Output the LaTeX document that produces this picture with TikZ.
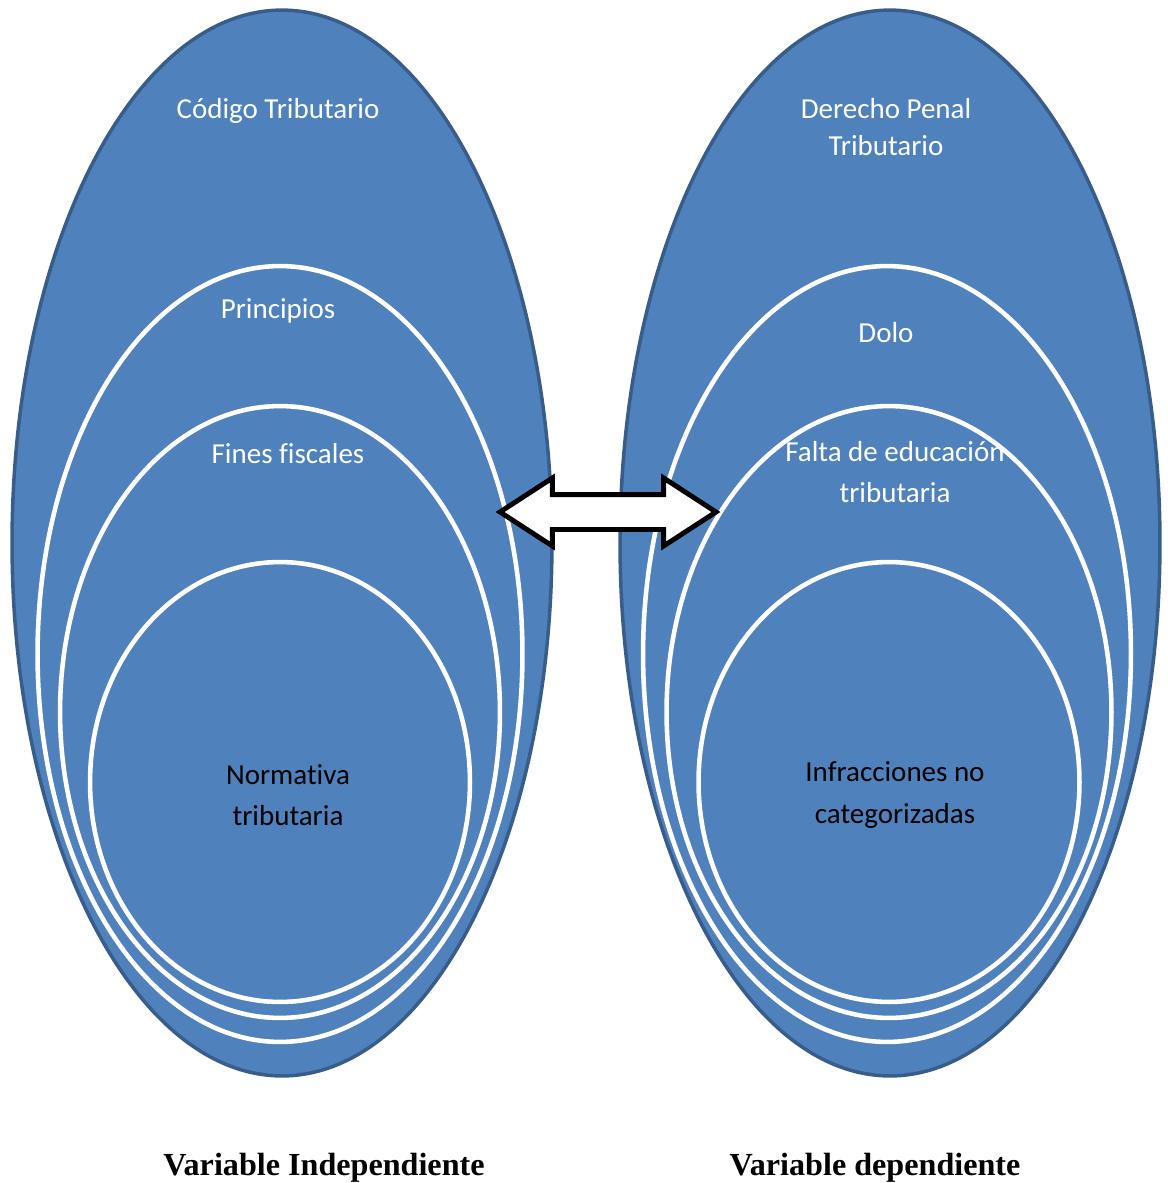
\documentclass[tikz,border=0pt]{standalone}
\usepackage{fontspec}
\setmainfont{Liberation Serif}
\newfontfamily\calfont[Ligatures=NoCommon]{Carlito}
\usetikzlibrary{shapes.geometric}
\usetikzlibrary{shapes.arrows}
\usetikzlibrary{positioning}
\definecolor{ovalfill}{HTML}{4F81BD}
\definecolor{ovalline}{HTML}{385D8A}

\begin{document}
\begin{tikzpicture}[x=0.02cm,y=-0.02cm,
  outer/.style={ellipse,draw=ovalline,line width=2pt,fill=ovalfill,inner sep=0pt},
  inner/.style={ellipse,draw=white,line width=2.6pt,fill=ovalfill,inner sep=0pt},
  txt/.style={font=\calfont\fontsize{16.5}{23.5}\selectfont,text=white,align=center,inner sep=0pt},
  vlabel/.style={font=\bfseries\fontsize{18.3}{22}\selectfont,inner sep=0pt}]
  \useasboundingbox (0,0) rectangle (1167,1183);
  % izquierda
  \node[outer,minimum width=10.8cm,minimum height=21.32cm] (codigo) at (282,543) {};
  \node[inner,minimum width=9.7cm,minimum height=15.52cm] (princ) at (280,654) {};
  \node[inner,minimum width=8.8cm,minimum height=12.24cm] (fines) at (280,712) {};
  \node[inner,minimum width=7.6cm,minimum height=8.8cm] (norma) at (280,782) {};
  % derecha
  \node[outer,minimum width=10.8cm,minimum height=21.32cm] (penal) at (890,543) {};
  \node[inner,minimum width=9.76cm,minimum height=15.52cm] (dolo) at (887,654) {};
  \node[inner,minimum width=8.9cm,minimum height=12.24cm] (falta) at (889,712) {};
  \node[inner,minimum width=7.62cm,minimum height=8.8cm] (infrac) at (889,782) {};
  % textos
  \node[txt] (tcodigo) at (278,111) {Código Tributario};
  \node[txt] (tprinc) at (278,311) {Principios};
  \node[txt] (tfines) at (288,454) {Fines fiscales};
  \node[txt,text=black] (tnorma) at (288,795) {Normativa\\tributaria};
  \node[txt,font=\calfont\fontsize{16.5}{21}\selectfont] (tpenal) at (886,127) {Derecho Penal\\Tributario};
  \node[txt] (tdolo) at (886,333) {Dolo};
  \node[txt] (tfalta) at (895,472) {Falta de educación\\tributaria};
  \node[txt,text=black] (tinfrac) at (895,795) {Infracciones no\\categorizadas};
  % flecha
  \node[double arrow,draw=black,fill=white,line width=2.8pt,inner xsep=0pt,inner ysep=0.3cm,
        minimum height=4.32cm,minimum width=1.3cm,
        double arrow head extend=0.33cm,double arrow tip angle=66] (link) at (608,512) {};
  \node[vlabel] (vind) at (324,1168) {Variable Independiente};
  \node[vlabel] (vdep) at (875,1168) {Variable dependiente};
\end{tikzpicture}
\end{document}
